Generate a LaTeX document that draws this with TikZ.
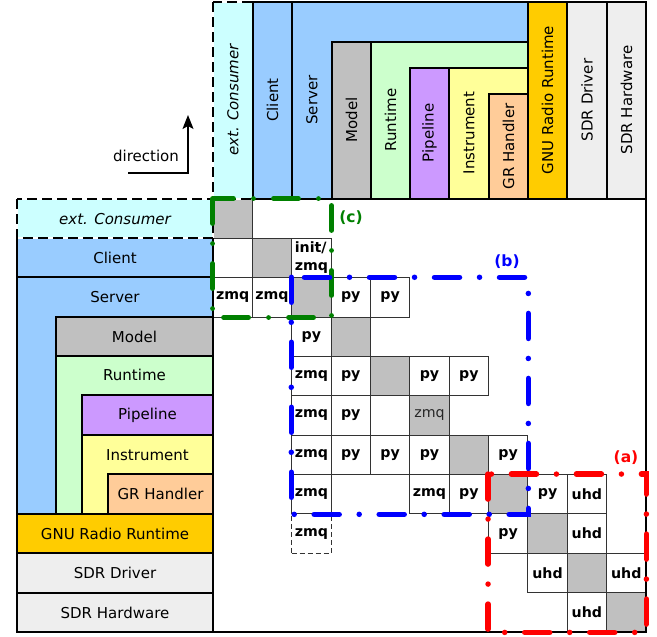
\documentclass[tikz,border=0pt]{standalone}
\usepackage{fontspec}
\setmainfont{DejaVu Sans}
\usetikzlibrary{arrows.meta}
\definecolor{cyanbox}{HTML}{CCFFFF}
\definecolor{bluebox}{HTML}{99CCFF}
\definecolor{graybox}{HTML}{C0C0C0}
\definecolor{greenbox}{HTML}{CCFFCC}
\definecolor{purplebox}{HTML}{CC99FF}
\definecolor{yellowbox}{HTML}{FFFF99}
\definecolor{peachbox}{HTML}{FFCC99}
\definecolor{gnubox}{HTML}{FFCC00}
\definecolor{sdrbox}{HTML}{EEEEEE}
\definecolor{hlgreen}{HTML}{008000}
\definecolor{hlblue}{HTML}{0000FF}
\definecolor{hlred}{HTML}{FF0000}
\begin{document}
\begin{tikzpicture}[x=1pt,y=-1pt,
  lbl/.style={font=\fontsize{15}{18}\selectfont, inner sep=0pt},
  vlbl/.style={lbl, rotate=90},
  mainb/.style={draw=black, line width=2pt},
  nestb/.style={draw=black, line width=1.5pt},
  extb/.style={draw=black, line width=2.2pt, dash pattern=on 10pt off 5pt},
  extw/.style={draw=white, line width=2.2pt},
  cellbox/.style={draw=black!80, line width=0.9pt, minimum size=39.36pt, inner sep=0pt,
    font=\fontsize{14.2}{17}\selectfont\bfseries},
  grayc/.style={cellbox, fill=graybox},
  whitec/.style={cellbox, fill=white},
  dashc/.style={cellbox, fill=white, dash pattern=on 5pt off 3pt, line width=0.8pt},
  hl/.style={line width=5.5pt, line cap=round, dash pattern=on 25pt off 20pt on 0pt off 20pt},
  hltext/.style={font=\fontsize{15.5}{18}\selectfont\bfseries, inner sep=0pt},
]
\useasboundingbox[fill=white] (0,0) rectangle (657,637);

% ---------------- matrix cells ----------------
\foreach \i/\j/\s/\txt in {
  0/0/grayc/{}, 1/0/whitec/{}, 1/1/grayc/{},
  2/0/whitec/zmq, 2/1/whitec/zmq, 2/2/grayc/{}, 2/3/whitec/py, 2/4/whitec/py,
  3/2/whitec/py, 3/3/grayc/{},
  4/2/whitec/zmq, 4/3/whitec/py, 4/4/grayc/{}, 4/5/whitec/py, 4/6/whitec/py,
  5/2/whitec/zmq, 5/3/whitec/py, 5/4/whitec/{},
  6/2/whitec/zmq, 6/3/whitec/py, 6/4/whitec/py, 6/5/whitec/py, 6/6/grayc/{}, 6/7/whitec/py,
  7/2/whitec/zmq, 7/5/whitec/zmq, 7/6/whitec/py, 7/7/grayc/{}, 7/8/whitec/py, 7/9/whitec/uhd,
  8/2/dashc/zmq, 8/7/whitec/py, 8/8/grayc/{}, 8/9/whitec/uhd,
  9/8/whitec/uhd, 9/9/grayc/{}, 9/10/whitec/uhd,
  10/9/whitec/uhd, 10/10/grayc/{}}
  \node[\s] (m-\i-\j) at ({232.68+39.36*\j},{218.68+39.36*\i}) {\txt};
\node[whitec, align=left, font=\fontsize{14.2}{18}\selectfont\bfseries] (m-1-2) at ({232.68+39.36*2},{218.68+39.36*1}) {init/\\zmq};
\node[grayc, font=\fontsize{14.2}{17}\selectfont, text=black!85] (m-5-5) at ({232.68+39.36*5},{218.68+39.36*5}) {zmq};

% ---------------- top header ----------------
\fill[cyanbox] (213,2) rectangle (253,199);
\draw[extw] (213,2) rectangle (253,199);
\draw[extb] (213,2) rectangle (253,199);
\node[vlbl, font=\fontsize{15}{18}\selectfont\itshape] (t-ext) at (233,100) {ext. Consumer};
\filldraw[mainb, fill=bluebox] (253,2) rectangle (292,199);
\node[vlbl] (t-client) at (272.5,100) {Client};
\filldraw[mainb, fill=bluebox] (292,2) rectangle (528,199);
\node[vlbl] (t-server) at (312,100) {Server};
\filldraw[nestb, fill=graybox] (332,42) rectangle (371,199);
\node[vlbl] (t-model) at (351.5,120) {Model};
\filldraw[nestb, fill=greenbox] (371,42) rectangle (528,199);
\node[vlbl] (t-runtime) at (390.5,120) {Runtime};
\filldraw[nestb, fill=purplebox] (410,68) rectangle (449,199);
\node[vlbl] (t-pipeline) at (429.5,133) {Pipeline};
\filldraw[nestb, fill=yellowbox] (449,68) rectangle (528,199);
\node[vlbl] (t-instrument) at (469,133) {Instrument};
\filldraw[nestb, fill=peachbox] (489,94) rectangle (528,199);
\node[vlbl] (t-grh) at (508.5,146.5) {GR Handler};
\filldraw[mainb, fill=gnubox] (528,2) rectangle (567,199);
\node[vlbl] (t-gnu) at (547.5,100) {GNU Radio Runtime};
\filldraw[mainb, fill=sdrbox] (567,2) rectangle (607,199);
\node[vlbl] (t-drv) at (587,100) {SDR Driver};
\filldraw[mainb, fill=sdrbox] (607,2) rectangle (646,199);
\node[vlbl] (t-hw) at (626.5,100) {SDR Hardware};

% ---------------- left header ----------------
\filldraw[mainb, fill=bluebox] (17,238) rectangle (213,277);
\node[lbl] (l-client) at (115,258) {Client};
\fill[cyanbox] (17,199) rectangle (213,238);
\draw[extw] (17,199) rectangle (213,238);
\draw[extb] (17,199) rectangle (213,238);
\node[lbl, font=\fontsize{15}{18}\selectfont\itshape] (l-ext) at (115,219) {ext. Consumer};
\filldraw[mainb, fill=bluebox] (17,277) rectangle (213,514);
\node[lbl] (l-server) at (115,297) {Server};
\filldraw[nestb, fill=graybox] (56,317) rectangle (213,356);
\node[lbl] (l-model) at (134.5,337) {Model};
\filldraw[nestb, fill=greenbox] (56,356) rectangle (213,514);
\node[lbl] (l-runtime) at (134.5,375) {Runtime};
\filldraw[nestb, fill=purplebox] (82,395) rectangle (213,435);
\node[lbl] (l-pipeline) at (147.5,415) {Pipeline};
\filldraw[nestb, fill=yellowbox] (82,435) rectangle (213,514);
\node[lbl] (l-instrument) at (147.5,455) {Instrument};
\filldraw[nestb, fill=peachbox] (108,474) rectangle (213,514);
\node[lbl] (l-grh) at (160.5,494) {GR Handler};
\filldraw[mainb, fill=gnubox] (17,514) rectangle (213,553);
\node[lbl] (l-gnu) at (115,534) {GNU Radio Runtime};
\filldraw[mainb, fill=sdrbox] (17,553) rectangle (213,593);
\node[lbl] (l-drv) at (115,573) {SDR Driver};
\filldraw[mainb, fill=sdrbox] (17,593) rectangle (213,632);
\node[lbl] (l-hw) at (115,613) {SDR Hardware};

% ---------------- matrix frame ----------------
\draw[line width=2.2pt] (646,2) -- (646,632) -- (17,632);
\draw[line width=2.2pt] (213,238) -- (213,632);
\draw[line width=2.2pt] (253,199) -- (646,199);

% ---------------- highlighted regions ----------------
\draw[hl, hlgreen, line width=4.8pt] (m-0-0.north west) rectangle (m-2-2.south east);
\draw[hl, hlblue] (m-2-2.north west) rectangle (m-7-7.south east);
\draw[hl, hlred] (m-7-7.north west) rectangle (m-10-10.south east);
\node[hltext, text=hlgreen] (lab-c) at (351,218) {(c)};
\node[hltext, text=hlblue] (lab-b) at (507,262) {(b)};
\node[hltext, text=hlred] (lab-a) at (626,458) {(a)};

% ---------------- direction arrow ----------------
\coordinate (dir-start) at (128,173);
\coordinate (dir-end) at (188,115);
\draw[line width=1.2pt, -{Stealth[length=14pt,width=11pt,inset=3pt]}] (dir-start) -| (dir-end);
\node[lbl] (dir-label) at (146,156) {direction};
\end{tikzpicture}
\end{document}
